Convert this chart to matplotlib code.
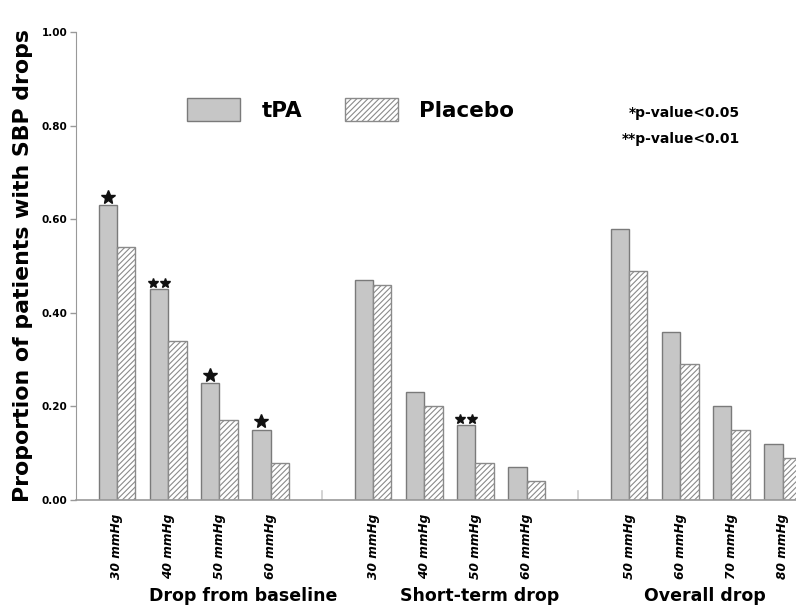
import matplotlib
matplotlib.use("Agg")
import matplotlib.pyplot as plt
import numpy as np

plt.rcParams['font.family'] = ['DejaVu Sans']
plt.rcParams['hatch.linewidth'] = 0.8

groups = ["Drop from baseline", "Short-term drop", "Overall drop"]
tick_labels = [
    ["30 mmHg", "40 mmHg", "50 mmHg", "60 mmHg"],
    ["30 mmHg", "40 mmHg", "50 mmHg", "60 mmHg"],
    ["50 mmHg", "60 mmHg", "70 mmHg", "80 mmHg"],
]
tpa = [
    [0.63, 0.45, 0.25, 0.15],
    [0.47, 0.23, 0.16, 0.07],
    [0.58, 0.36, 0.20, 0.12],
]
placebo = [
    [0.54, 0.34, 0.17, 0.08],
    [0.46, 0.20, 0.08, 0.04],
    [0.49, 0.29, 0.15, 0.09],
]
significance = [
    ["*", "**", "*", "*"],
    ["", "", "**", ""],
    ["", "", "", ""],
]
y_ticks = [0.0, 0.2, 0.4, 0.6, 0.8, 1.0]

fig = plt.figure(figsize=(7.96, 6.12), dpi=100)
ax = fig.add_axes([76/796, 112/612, 720/796, 468/612])

w = 0.36
edge = "#7a7a7a"
xs, labels, t_vals, p_vals, sigs = [], [], [], [], []
gap_pos = []
pos = 0
for g in range(len(groups)):
    for k in range(len(tpa[g])):
        xs.append(pos)
        labels.append(tick_labels[g][k])
        t_vals.append(tpa[g][k])
        p_vals.append(placebo[g][k])
        sigs.append(significance[g][k])
        pos += 1
    if g < len(groups) - 1:
        gap_pos.append(pos)
        pos += 1
xs = np.array(xs, dtype=float)

b1 = ax.bar(xs - w/2, t_vals, width=w, color="#c6c6c6", edgecolor=edge,
            linewidth=1.0, label="tPA")
b2 = ax.bar(xs + w/2, p_vals, width=w, color="white", edgecolor="#8a8a8a",
            hatch="//////", linewidth=1.0, label="Placebo")

# significance stars
for x, v, s in zip(xs - w/2, t_vals, sigs):
    if s == "*":
        ax.plot([x], [v + 0.018], marker="*", color="#111111", markersize=10,
                linestyle="none", clip_on=False)
    elif s == "**":
        ax.plot([x - 0.12, x + 0.12], [v + 0.014, v + 0.014], marker="*",
                color="#111111", markersize=7, linestyle="none", clip_on=False)

# small marks at gap positions
for gp in gap_pos:
    ax.plot([gp, gp], [0, 0.02], color="#cccccc", linewidth=1.2)

ax.set_xlim(-0.80, 13.26)
ax.set_ylim(0, 1.0)
ax.set_yticks(y_ticks)
ax.set_yticklabels([f"{t:.2f}" for t in y_ticks], fontsize=7.5, fontweight="bold")
ax.set_xticks(xs)
ax.set_xticklabels(labels, rotation=90, fontsize=8.7, fontweight="bold",
                   fontstyle="italic")
ax.tick_params(axis="x", length=0, pad=10)
ax.tick_params(axis="y", length=4, width=1, color="#999999", pad=2)

for sp in ["top", "right"]:
    ax.spines[sp].set_visible(False)
ax.spines["left"].set_color("#999999")
ax.spines["bottom"].set_color("#999999")
ax.spines["bottom"].set_linewidth(1.2)

ax.set_ylabel("Proportion of patients with SBP drops", fontsize=15.8,
              fontweight="bold", labelpad=6)

# group labels
group_label_x = [243, 480, 705]
for gname, px in zip(groups, group_label_x):
    fig.text(px/796, 1 - 596/612, gname, ha="center", va="center",
             fontsize=12.5, fontweight="bold")

leg = ax.legend(handles=[b1, b2], loc="upper left",
                bbox_to_anchor=((187-76)/720, (500-98)/468), ncol=2,
                frameon=False, prop={"weight": "bold", "size": 15.5},
                handlelength=2.45, handleheight=1.25, handletextpad=1.0,
                columnspacing=2.0, borderpad=0, borderaxespad=0)

ax.text(0.922, (500-113)/468, "*p-value<0.05", transform=ax.transAxes,
        ha="right", va="center", fontsize=10, fontweight="bold")
ax.text(0.922, (500-139)/468, "**p-value<0.01", transform=ax.transAxes,
        ha="right", va="center", fontsize=10, fontweight="bold")

fig.savefig("out.png", dpi=100, facecolor="white")
